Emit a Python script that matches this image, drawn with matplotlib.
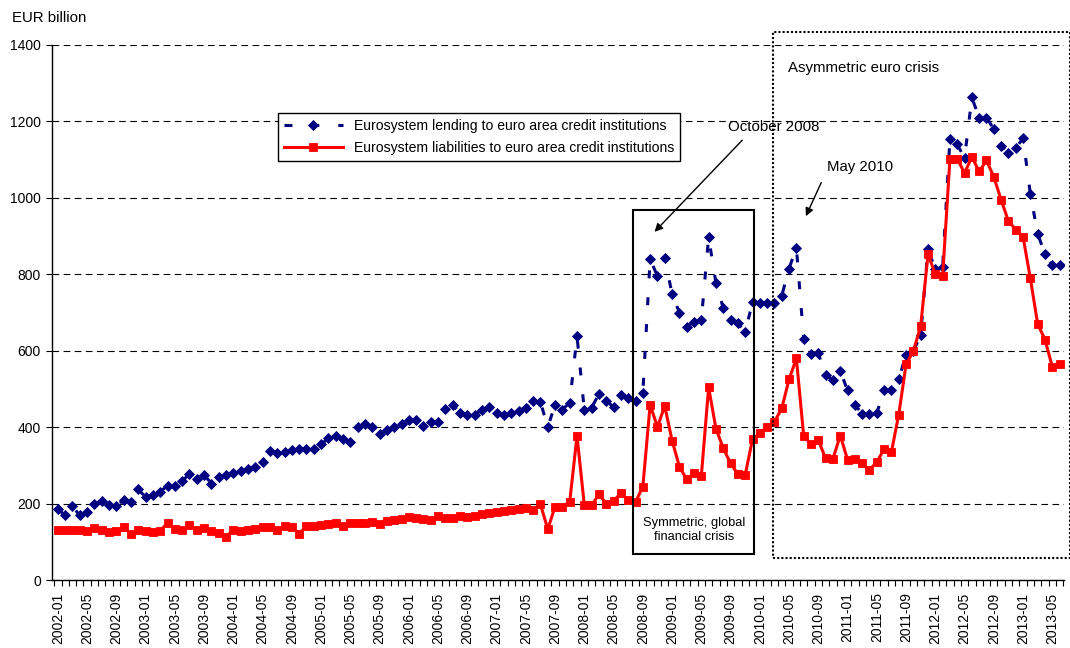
import matplotlib
matplotlib.use('Agg')
import matplotlib.pyplot as plt
from matplotlib.patches import Rectangle
import numpy as np

plt.rcParams['font.family'] = ['Liberation Sans', 'DejaVu Sans']

# ---- data -------------------------------------------------------------
months = [f"{y}-{m:02d}" for y in range(2002, 2014) for m in range(1, 13)][:138]

lending = [
    186, 169, 193, 169, 177, 200, 206, 196, 193, 210, 204, 237,
    217, 223, 231, 247, 245, 258, 278, 265, 276, 252, 270, 275,
    279, 284, 291, 296, 308, 337, 333, 334, 339, 343, 344, 343,
    355, 371, 378, 370, 361, 400, 408, 400, 383, 392, 400, 407,
    418, 418, 403, 413, 413, 448, 459, 437, 433, 433, 444, 452,
    437, 431, 436, 442, 451, 468, 466, 400, 459, 446, 464, 638,
    444, 451, 487, 468, 453, 485, 475, 468, 490, 840, 795, 843,
    748, 700, 662, 676, 680, 897, 777, 712, 680, 672, 649, 727,
    726, 726, 724, 744, 815, 870, 631, 591, 593, 536, 523, 547,
    496, 459, 435, 435, 437, 496, 496, 525, 590, 599, 641, 866,
    813, 820, 1154, 1140, 1104, 1263, 1209, 1210, 1180, 1136, 1118, 1130,
    1156, 1010, 906, 853, 823, 823,
]

liabilities = [
    130, 132, 132, 132, 129, 135, 132, 126, 128, 138, 121, 130,
    128, 125, 129, 149, 134, 130, 143, 130, 136, 128, 123, 113,
    132, 129, 132, 134, 139, 138, 130, 141, 138, 121, 141, 141,
    143, 147, 149, 141, 148, 149, 148, 152, 147, 154, 156, 160,
    165, 163, 160, 156, 167, 163, 163, 168, 165, 168, 172, 175,
    178, 181, 183, 185, 188, 183, 198, 133, 192, 192, 204, 377,
    196, 196, 224, 200, 207, 227, 209, 204, 244, 458, 401, 455,
    365, 297, 263, 279, 272, 504, 396, 345, 305, 277, 275, 368,
    384, 401, 414, 449, 525, 580, 377, 356, 366, 318, 317, 378,
    315, 316, 305, 288, 309, 342, 335, 433, 564, 599, 664, 852,
    801, 795, 1102, 1102, 1065, 1107, 1069, 1098, 1055, 995, 939, 917,
    898, 789, 670, 629, 558, 564,
]

label_lending = "Eurosystem lending to euro area credit institutions"
label_liab = "Eurosystem liabilities to euro area credit institutions"
yticks = list(range(0, 1401, 200))

# ---- figure -----------------------------------------------------------
W, H = 1070, 648
fig = plt.figure(figsize=(W / 100, H / 100), dpi=100)
ax = fig.add_axes([52 / W, 1 - 580 / H, (1064 - 52) / W, 535 / H])

x = np.arange(len(months))
ax.plot(x, lending, color='#000080', lw=2.2, ls=(0, (2.6, 6.2)),
        marker='D', ms=5.3, mfc='#000080', mec='#000080', mew=0.6,
        label=label_lending, zorder=3)
ax.plot(x, liabilities, color='#FF0000', lw=2.2, ls='-',
        marker='s', ms=5.5, mfc='#FF0000', mec='#FF0000', mew=0.6,
        label=label_liab, zorder=4)

ax.set_ylim(0, 1400)
ax.set_yticks(yticks)
ax.set_yticklabels([str(v) for v in yticks], fontsize=10)
ax.set_xlim(-0.8, 137.6)
ax.set_xticks(x[::4])
ax.set_xticklabels(months[::4], rotation=90, fontsize=10)
ax.set_xticks(np.arange(-0.5, len(months), 1), minor=True)
ax.tick_params(axis='x', which='major', length=0, pad=9)
ax.tick_params(axis='x', which='minor', length=4, width=0.8, direction='out')
ax.tick_params(axis='y', which='major', length=4, width=0.8, pad=4)

ax.yaxis.grid(True, ls=(0, (6, 4)), color='black', lw=0.8)
for s in ['top', 'right']:
    ax.spines[s].set_visible(False)
for s in ['left', 'bottom']:
    ax.spines[s].set_linewidth(1.0)

leg = ax.legend(loc='upper left', bbox_to_anchor=(0.2233, 0.873),
                borderaxespad=0, fontsize=10.1, frameon=True, fancybox=False,
                edgecolor='black', framealpha=1, handlelength=4.2,
                labelspacing=0.6, borderpad=0.4, numpoints=1)
leg.get_frame().set_linewidth(1.0)

# crisis boxes
ax.add_patch(Rectangle((78.7, 68), 95.2 - 78.7, 968 - 68, fill=False,
                       ec='black', lw=1.5, clip_on=False, zorder=5))
ax.text(87.0, 131, "Symmetric, global\nfinancial crisis", ha='center',
        va='center', fontsize=9.3, linespacing=1.2, zorder=6)
ax.add_patch(Rectangle((97.85, 57.6), 138.4 - 97.85, 1434 - 57.6, fill=False,
                       ec='black', lw=1.5, ls=(0, (1, 1)), clip_on=False,
                       zorder=5))
ax.text(99.9, 1340, "Asymmetric euro crisis", ha='left', va='center',
        fontsize=10.8)

# annotations
ax.text(91.7, 1185, "October 2008", ha='left', va='center', fontsize=10.8)
ax.annotate('', xy=(81.6, 911), xytext=(93.6, 1151),
            arrowprops=dict(arrowstyle='-|>', color='black', lw=1,
                            mutation_scale=12, shrinkA=0, shrinkB=0))
ax.text(105.2, 1081, "May 2010", ha='left', va='center', fontsize=10.8)
ax.annotate('', xy=(102.3, 952), xytext=(104.4, 1040),
            arrowprops=dict(arrowstyle='-|>', color='black', lw=1,
                            mutation_scale=12, shrinkA=0, shrinkB=0))

fig.text(12 / W, 1 - 18 / H, "EUR billion", ha='left', va='center',
         fontsize=10.8)

fig.savefig('out.png', dpi=100)
